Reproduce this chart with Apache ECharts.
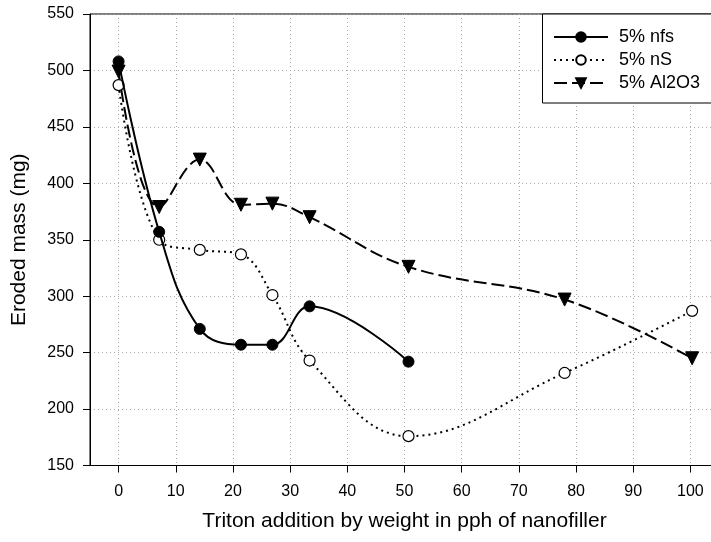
<!DOCTYPE html>
<html>
<head>
<meta charset="utf-8">
<script src="https://cdn.jsdelivr.net/npm/echarts@6/dist/echarts.min.js"></script>
<style>
  html, body { margin: 0; padding: 0; background: #fff; }
  #chart1 { width: 711px; height: 542px; }
</style>
</head>
<body>
<div id="chart1"></div>
<script>
// valores
const xNfs = [0, 7.1, 14.2, 21.4, 26.9, 33.4, 50.7];
const nfs = [508, 357, 271, 257, 257, 291, 242];
const xAll = [0, 7.1, 14.2, 21.4, 26.9, 33.4, 50.7, 78, 100.3];
const nS = [487, 350, 341, 337, 301, 243, 176, 232, 287];
const al2o3 = [499, 379, 421, 381, 382, 370, 326, 297, 245];
const xTicks = [0, 10, 20, 30, 40, 50, 60, 70, 80, 90, 100];
const seriesNames = ['5% nfs', '5% nS', '5% Al2O3'];

const font = 'Liberation Sans, Arial, sans-serif';

function pairs(xs, ys) {
    return xs.map((x, i) => [x, ys[i]]);
}

let chart1;

function initCharts() {
    chart1 = echarts.init(document.getElementById('chart1'));

    let option = {
        animation: false,
        backgroundColor: '#fff',
        grid: {
            left: 90,
            top: 14,
            width: 629,
            height: 451.5,
            outerBoundsMode: 'none',
            containLabel: false,
            show: true,
            borderColor: '#000',
            borderWidth: 1
        },
        // marco de la leyenda, sale por la derecha como en el original
        graphic: [
            {
                type: 'rect',
                z: 3,
                shape: { x: 542.5, y: 14, width: 240, height: 89 },
                style: { fill: '#fff', stroke: '#000', lineWidth: 1 }
            }
        ],
        legend: {
            orient: 'vertical',
            left: 542,
            top: 14,
            padding: [14, 10, 12, 11],
            itemGap: 5,
            itemWidth: 54,
            itemHeight: 12,
            selectedMode: false,
            z: 5,
            textStyle: { fontFamily: font, fontSize: 18, color: '#000', padding: [0, 0, 0, 6] },
            data: seriesNames
        },
        xAxis: {
            type: 'value',
            min: -5,
            max: 105,
            name: 'Triton addition by weight in pph of nanofiller',
            nameLocation: 'middle',
            nameGap: 45,
            nameTextStyle: { fontFamily: font, fontSize: 21, color: '#000' },
            axisLine: { show: true, onZero: false, lineStyle: { color: '#000', width: 1 } },
            axisTick: { show: true, inside: false, length: 7, customValues: xTicks, lineStyle: { color: '#000' } },
            axisLabel: { customValues: xTicks, margin: 18, fontFamily: font, fontSize: 16, color: '#000' },
            splitLine: { show: true, lineStyle: { color: '#aaa', type: [1, 3], width: 1 } }
        },
        yAxis: {
            type: 'value',
            min: 150,
            max: 550,
            interval: 50,
            name: 'Eroded mass (mg)',
            nameLocation: 'middle',
            nameGap: 60,
            nameTextStyle: { fontFamily: font, fontSize: 21, color: '#000' },
            axisLine: { show: true, onZero: false, lineStyle: { color: '#000', width: 1 } },
            axisTick: { show: true, inside: false, length: 7, lineStyle: { color: '#000' } },
            axisLabel: { margin: 16, fontFamily: font, fontSize: 16, color: '#000' },
            splitLine: { show: true, lineStyle: { color: '#aaa', type: [1, 3], width: 1 } }
        },
        series: [
            {
                name: seriesNames[0],
                type: 'line',
                smooth: 0.4,
                data: pairs(xNfs, nfs),
                symbol: 'circle',
                symbolSize: 11,
                itemStyle: { color: '#000', borderColor: '#000', borderWidth: 1 },
                lineStyle: { color: '#000', width: 2, type: 'solid' },
                z: 4
            },
            {
                name: seriesNames[1],
                type: 'line',
                smooth: 0.4,
                data: pairs(xAll, nS),
                symbol: 'circle',
                symbolSize: 11,
                itemStyle: { color: '#fff', borderColor: '#000', borderWidth: 1.2 },
                lineStyle: { color: '#000', width: 2, type: [2, 4] },
                z: 3
            },
            {
                name: seriesNames[2],
                type: 'line',
                smooth: 0.4,
                data: pairs(xAll, al2o3),
                symbol: 'triangle',
                symbolRotate: 180,
                symbolSize: 13,
                itemStyle: { color: '#000', borderColor: '#000', borderWidth: 1 },
                lineStyle: { color: '#000', width: 2, type: [13, 5] },
                z: 2
            }
        ]
    };

    chart1.setOption(option);
}

document.addEventListener('DOMContentLoaded', function () {
    initCharts();
});
</script>
</body>
</html>
